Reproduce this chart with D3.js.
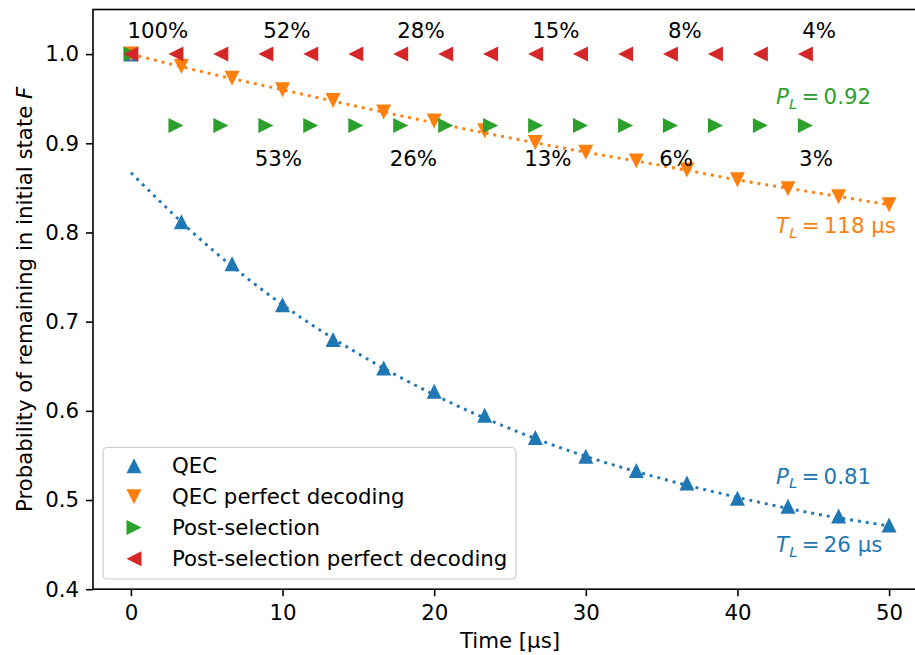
<!DOCTYPE html>
<html><head><meta charset="utf-8">
<script src="https://cdn.jsdelivr.net/npm/d3@7"></script>
<style>
body{margin:0;background:#fff}
text{font-family:"DejaVu Sans",sans-serif}
</style>
</head><body>
<svg id="c" width="915" height="655" xmlns="http://www.w3.org/2000/svg"></svg>
<script>
// ---- data ----
const qecTimes = [0, 3.33, 6.67, 10, 13.33, 16.67, 20, 23.33, 26.67, 30, 33.33, 36.67, 40, 43.33, 46.67, 50];
const qecValues = [1.0, 0.812, 0.765, 0.719, 0.680, 0.648, 0.622, 0.595, 0.570, 0.549, 0.533, 0.519, 0.502, 0.493, 0.482, 0.472];
const qecPerfectValues = [1.0, 0.986, 0.973, 0.960, 0.948, 0.935, 0.925, 0.914, 0.901, 0.890, 0.880, 0.870, 0.859, 0.849, 0.840, 0.831];
const psTimes = [0, 2.97, 5.93, 8.90, 11.86, 14.83, 17.79, 20.76, 23.72, 26.69, 29.65, 32.62, 35.58, 38.55, 41.51, 44.48];
const psValues = [1.0, 0.92, 0.92, 0.92, 0.92, 0.92, 0.92, 0.92, 0.92, 0.92, 0.92, 0.92, 0.92, 0.92, 0.92, 0.92];
const psPerfectValues = [1.0, 1.0, 1.0, 1.0, 1.0, 1.0, 1.0, 1.0, 1.0, 1.0, 1.0, 1.0, 1.0, 1.0, 1.0, 1.0];
const fitTimes = [0, 5, 10, 15, 20, 25, 30, 35, 40, 45, 50];
const qecFit = [0.867, 0.786, 0.719, 0.664, 0.618, 0.580, 0.549, 0.524, 0.503, 0.485, 0.471];
const qecPerfectFit = [1.000, 0.979, 0.960, 0.941, 0.923, 0.906, 0.890, 0.875, 0.859, 0.845, 0.831];
const topPctLabels = ["100%", "52%", "28%", "15%", "8%", "4%"];
const topPctX = [1.78, 10.29, 19.13, 28.03, 36.53, 45.38];
const topPctY = 1.0185;
const botPctLabels = ["53%", "26%", "13%", "6%", "3%"];
const botPctX = [9.72, 18.63, 27.5, 35.96, 45.18];
const botPctY = 0.8748;
const xTicks = [0, 10, 20, 30, 40, 50];
const yTicks = [0.4, 0.5, 0.6, 0.7, 0.8, 0.9, 1.0];
const seriesNames = ["QEC", "QEC perfect decoding", "Post-selection", "Post-selection perfect decoding"];
const colors = ["#1f77b4", "#ff7f0e", "#2ca02c", "#d62728"];
const markerKinds = ["up", "down", "right", "left"];

// ---- layout ----
const W = 915, H = 655;
const x = d3.scaleLinear().domain([-2.5, 52.5]).range([93, 927]);
const y = d3.scaleLinear().domain([0.4, 1.05]).range([589.2, 9.5]);
const FS = 21.3;

const svg = d3.select("#c");
svg.append("rect").attr("width", W).attr("height", H).attr("fill", "#fff");

function tri(kind, s) {
  const h = s / 2;
  if (kind === "up") return `M0,${-h}L${-h},${h}L${h},${h}Z`;
  if (kind === "down") return `M0,${h}L${-h},${-h}L${h},${-h}Z`;
  if (kind === "right") return `M${h},0L${-h},${-h}L${-h},${h}Z`;
  return `M${-h},0L${h},${-h}L${h},${h}Z`;
}
const MS = 15;

const plot = svg.append("g");

// fit lines
const line = d3.line().x(d => x(d[0])).y(d => y(d[1])).curve(d3.curveMonotoneX);
const fits = [
  {vals: qecFit, color: colors[0]},
  {vals: qecPerfectFit, color: colors[1]}
];

// markers
const series = [
  {t: qecTimes, v: qecValues},
  {t: qecTimes, v: qecPerfectValues},
  {t: psTimes, v: psValues},
  {t: psTimes, v: psPerfectValues}
];
series.forEach((s, i) => {
  plot.append("g").selectAll("path").data(s.t.map((t, j) => [t, s.v[j]])).join("path")
    .attr("d", tri(markerKinds[i], MS))
    .attr("transform", d => `translate(${x(d[0])},${y(d[1])})`)
    .attr("fill", colors[i]);
  if (i < 2) {
    plot.append("path")
      .datum(fitTimes.map((t, j) => [t, fits[i].vals[j]]))
      .attr("d", line)
      .attr("fill", "none")
      .attr("stroke", fits[i].color)
      .attr("stroke-width", 2.9)
      .attr("stroke-dasharray", "2.9 5");
  }
});

// percentage labels
plot.append("g").selectAll("text").data(topPctLabels).join("text")
  .attr("x", (d, i) => x(topPctX[i])).attr("y", y(topPctY))
  .attr("text-anchor", "middle").attr("font-size", FS).attr("fill", "#000").text(d => d);
plot.append("g").selectAll("text").data(botPctLabels).join("text")
  .attr("x", (d, i) => x(botPctX[i])).attr("y", y(botPctY))
  .attr("text-anchor", "middle").attr("font-size", FS).attr("fill", "#000").text(d => d);

// P_L / T_L annotations
function mathLabel(xv, py, sym, rest, color) {
  const t = svg.append("text").attr("x", x(xv)).attr("y", py).attr("font-size", FS).attr("fill", color);
  t.append("tspan").attr("font-style", "italic").text(sym);
  t.append("tspan").attr("font-style", "italic").attr("font-size", FS * 0.7).attr("dy", 4.5).text("L");
  t.append("tspan").attr("dy", -4.5).text("\u2009=\u2009" + rest);
}
mathLabel(42.55, 104, "P", "0.92", colors[2]);
mathLabel(42.55, 233, "T", "118 \u00b5s", colors[1]);
mathLabel(42.55, 483.5, "P", "0.81", colors[0]);
mathLabel(42.55, 552, "T", "26 \u00b5s", colors[0]);

// axes
const xAxis = svg.append("g").attr("transform", `translate(0,${y(0.4)})`)
  .call(d3.axisBottom(x).tickValues(xTicks).tickFormat(d3.format("d")).tickSize(7).tickSizeOuter(0).tickPadding(9));
const yAxis = svg.append("g").attr("transform", `translate(${x(-2.5)},0)`)
  .call(d3.axisLeft(y).tickValues(yTicks).tickFormat(d3.format(".1f")).tickSize(7).tickSizeOuter(0).tickPadding(7));
[xAxis, yAxis].forEach(a => {
  a.select(".domain").remove();
  a.selectAll(".tick line").attr("stroke", "#000").attr("stroke-width", 1.6);
  a.selectAll(".tick text").attr("font-size", FS).attr("fill", "#000").attr("font-family", '"DejaVu Sans",sans-serif');
});

// frame (spines)
svg.append("rect")
  .attr("x", x(-2.5)).attr("y", y(1.05))
  .attr("width", x(52.5) - x(-2.5)).attr("height", y(0.4) - y(1.05))
  .attr("fill", "none").attr("stroke", "#000").attr("stroke-width", 1.6);

// axis titles
svg.append("text").attr("x", (x(-2.5) + x(52.5)) / 2).attr("y", 648)
  .attr("text-anchor", "middle").attr("font-size", FS).text("Time [\u00b5s]");
const yl = svg.append("text").attr("transform", `translate(31.5,${(y(0.4) + y(1.05)) / 2}) rotate(-90)`)
  .attr("text-anchor", "middle").attr("font-size", FS);
yl.append("tspan").text("Probability of remaining in initial state ");
yl.append("tspan").attr("font-style", "italic").text("F");

// legend
const lg = svg.append("g");
lg.append("rect").attr("x", 103).attr("y", 447.5).attr("width", 413).attr("height", 131.5)
  .attr("rx", 4).attr("fill", "#fff").attr("fill-opacity", 0.8)
  .attr("stroke", "#cccccc").attr("stroke-width", 1.2);
const rowY = [465.7, 496.7, 527.5, 558.7];
seriesNames.forEach((n, i) => {
  lg.append("path").attr("d", tri(markerKinds[i], MS))
    .attr("transform", `translate(134,${rowY[i]})`).attr("fill", colors[i]);
  lg.append("text").attr("x", 172).attr("y", rowY[i] + 7).attr("font-size", FS).attr("fill", "#000").text(n);
});
</script>
</body></html>
